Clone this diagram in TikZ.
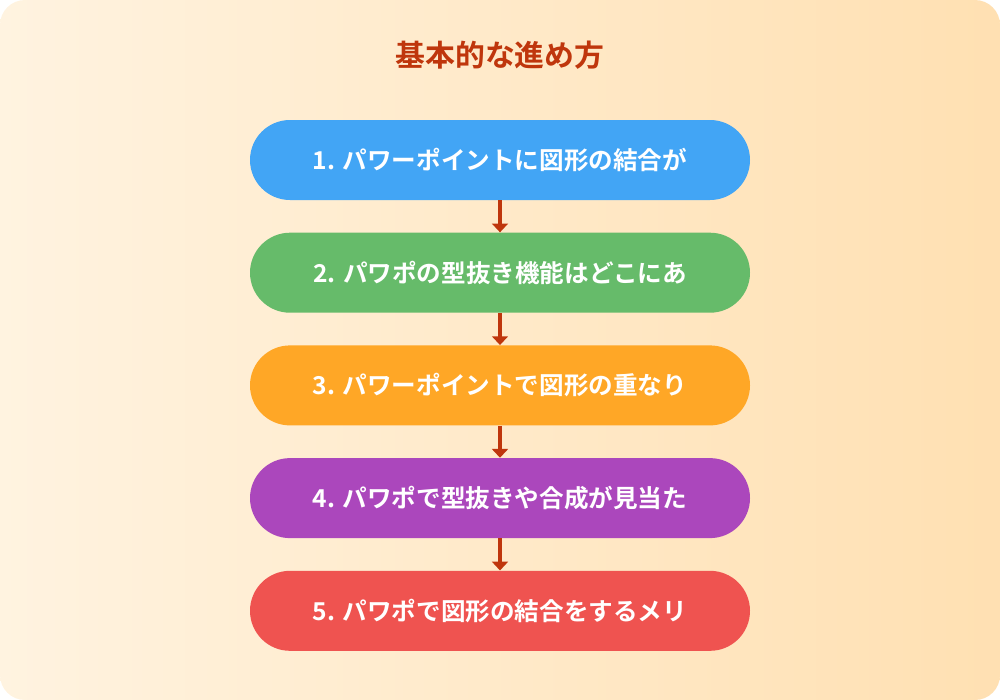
\documentclass[tikz,border=0pt]{standalone}
\usepackage{fontspec}
\setmainfont{Noto Sans CJK JP}[BoldFont={* Bold}]
\usepackage{tikz}
\usetikzlibrary{positioning,arrows.meta}
\definecolor{bgA}{HTML}{FFF3E0}
\definecolor{bgB}{HTML}{FFE0B2}
\definecolor{titlered}{HTML}{BF360C}
\definecolor{stepA}{HTML}{42A5F5}
\definecolor{stepB}{HTML}{66BB6A}
\definecolor{stepC}{HTML}{FFA726}
\definecolor{stepD}{HTML}{AB47BC}
\definecolor{stepE}{HTML}{EF5350}
\tikzset{
  stepbox/.style={rounded corners=0.8cm, minimum width=10cm, minimum height=1.6cm,
    text=white, font=\bfseries\fontsize{14}{16}\selectfont},
  link/.style={draw=titlered, line width=2.5pt, -{Triangle[width=9pt,length=5pt]}}
}
\begin{document}
\begin{tikzpicture}
  \useasboundingbox (0,0) rectangle (20,-14);
  \shade[left color=bgA, right color=bgB, rounded corners=0.5cm] (0,0) rectangle (20,-14);

  \node[text=titlered, font=\bfseries\fontsize{17}{20}\selectfont] (title) at (10,-1.1) {基本的な進め方};

  \node[stepbox, fill=stepA] (s1) at (10,-3.2) {1. パワーポイントに図形の結合が};
  \node[stepbox, fill=stepB, below=0.64cm of s1] (s2) {2. パワポの型抜き機能はどこにあ};
  \node[stepbox, fill=stepC, below=0.64cm of s2] (s3) {3. パワーポイントで図形の重なり};
  \node[stepbox, fill=stepD, below=0.64cm of s3] (s4) {4. パワポで型抜きや合成が見当た};
  \node[stepbox, fill=stepE, below=0.64cm of s4] (s5) {5. パワポで図形の結合をするメリ};

  \foreach \a/\b in {s1/s2,s2/s3,s3/s4,s4/s5}
    \draw[link] (\a.south) -- (\b.north);
\end{tikzpicture}
\end{document}
